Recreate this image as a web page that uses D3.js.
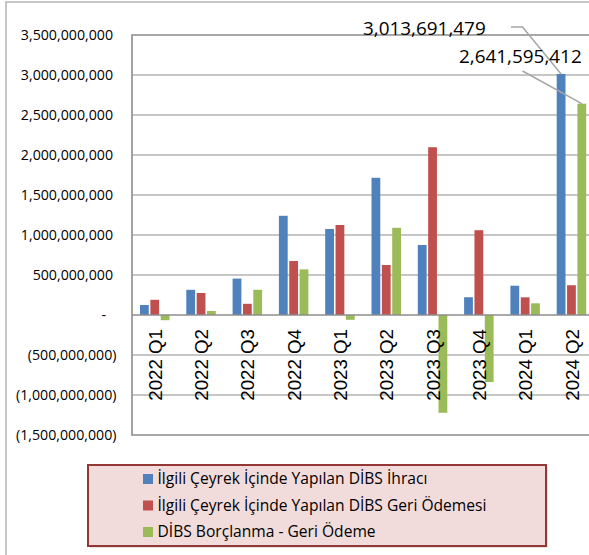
<!DOCTYPE html>
<html>
<head>
<meta charset="utf-8">
<script src="https://cdn.jsdelivr.net/npm/d3@7"></script>
<style>
  html, body { margin: 0; padding: 0; background: #fff; }
  svg { display: block; }
</style>
</head>
<body>
<svg id="chart" width="589" height="555"></svg>
<script>
// ---- data ----
const categories = ["2022 Q1","2022 Q2","2022 Q3","2022 Q4","2023 Q1","2023 Q2","2023 Q3","2023 Q4","2024 Q1","2024 Q2"];
const issuance   = [125e6, 315e6, 455e6, 1240e6, 1075e6, 1715e6, 875e6, 222e6, 366e6, 3013691479];
const repayment  = [190e6, 275e6, 140e6, 675e6, 1125e6, 625e6, 2097e6, 1060e6, 221e6, 372096067];
const net        = [-65e6, 50e6, 315e6, 570e6, -60e6, 1090e6, -1222e6, -838e6, 146e6, 2641595412];
const seriesNames = [
  "İlgili Çeyrek İçinde Yapılan DİBS İhracı",
  "İlgili Çeyrek İçinde Yapılan DİBS Geri Ödemesi",
  "DİBS Borçlanma - Geri Ödeme"
];
const seriesValues = [issuance, repayment, net];
const colors = ["#4F81BD", "#C0504D", "#9BBB59"];
const yTicks = [-1.5e9, -1e9, -5e8, 0, 5e8, 1e9, 1.5e9, 2e9, 2.5e9, 3e9, 3.5e9];

// ---- layout ----
const svg = d3.select("#chart");
const plot = { left: 132, right: 595, top: 35, bottom: 435 };
const fontUI = "'Open Sans', 'Noto Sans', sans-serif";

const y = d3.scaleLinear().domain([-1.5e9, 3.5e9]).range([plot.bottom, plot.top]);
const x0 = d3.scaleBand().domain(categories).range([plot.left, plot.right]).padding(0);
const x1 = d3.scaleBand().domain(d3.range(3)).range([8, 37.5]).paddingInner(0.15).paddingOuter(0);

// outer chart border
svg.append("path")
  .attr("d", "M6,555 L6,2 L589,2")
  .attr("fill", "none").attr("stroke", "#b4b4b4").attr("stroke-width", 1.5);

// gridlines
svg.append("g").selectAll("line")
  .data(yTicks.filter(t => t !== 0 && t !== 3.5e9 && t !== -1.5e9))
  .join("line")
  .attr("x1", plot.left).attr("x2", plot.right)
  .attr("y1", d => y(d)).attr("y2", d => y(d))
  .attr("stroke", "#b3b3b3").attr("stroke-width", 1.6);

// plot border (top, left, bottom)
svg.append("path")
  .attr("d", `M${plot.right},${y(3.5e9)} L${plot.left},${y(3.5e9)} L${plot.left},${y(-1.5e9)} L${plot.right},${y(-1.5e9)}`)
  .attr("fill", "none").attr("stroke", "#8c8c8c").attr("stroke-width", 1.6);

// bars
const barData = [];
categories.forEach((c, i) => {
  seriesValues.forEach((vals, s) => barData.push({ c, s, v: vals[i] }));
});
svg.append("g").selectAll("rect")
  .data(barData)
  .join("rect")
  .attr("x", d => x0(d.c) + x1(d.s))
  .attr("width", x1.bandwidth())
  .attr("y", d => y(Math.max(0, d.v)))
  .attr("height", d => Math.abs(y(d.v) - y(0)))
  .attr("fill", d => colors[d.s]);

// zero axis line
svg.append("line")
  .attr("x1", plot.left).attr("x2", plot.right)
  .attr("y1", y(0)).attr("y2", y(0))
  .attr("stroke", "#8c8c8c").attr("stroke-width", 1.6);

// y tick labels (accounting style)
const fmt = d3.format(",");
const yl = svg.append("g")
  .attr("font-family", fontUI).attr("font-size", 14.2).attr("fill", "#000");
yTicks.forEach(t => {
  const txt = t === 0 ? "-" : (t < 0 ? "(" + fmt(-t) + ")" : fmt(t));
  yl.append("text")
    .attr("x", t === 0 ? 106 : (t < 0 ? 116.5 : 113))
    .attr("y", y(t))
    .attr("dy", "0.35em")
    .attr("text-anchor", "end")
    .text(txt);
});

// category labels (rotated)
svg.append("g").selectAll("text")
  .data(categories)
  .join("text")
  .attr("transform", d => `translate(${x0(d) + x0.bandwidth() / 2},${y(0) + 14}) rotate(-90)`)
  .attr("dy", "0.36em")
  .attr("text-anchor", "end")
  .attr("font-family", "'Liberation Sans', Arial, sans-serif")
  .attr("font-size", 18.7)
  .attr("fill", "#000")
  .text(d => d);

// data labels with leader lines for last category
const last = categories.length - 1;
const blueCx = x0(categories[last]) + x1(0) + x1.bandwidth() / 2;
const greenCx = x0(categories[last]) + x1(2) + x1.bandwidth() / 2;
svg.append("path")
  .attr("d", `M511,27 L522.5,27 L${blueCx},${y(issuance[last])}`)
  .attr("fill", "none").attr("stroke", "#a6a6a6").attr("stroke-width", 1.5);
svg.append("path")
  .attr("d", `M522.5,71 L${greenCx},${y(net[last])}`)
  .attr("fill", "none").attr("stroke", "#a6a6a6").attr("stroke-width", 1.5);
svg.append("text")
  .attr("x", 363).attr("y", 28).attr("dy", "0.35em")
  .attr("font-family", fontUI).attr("font-size", 18.9).attr("fill", "#000")
  .text(fmt(issuance[last]));
svg.append("text")
  .attr("x", 459).attr("y", 56).attr("dy", "0.35em")
  .attr("font-family", fontUI).attr("font-size", 18.9).attr("fill", "#000")
  .text(fmt(net[last]));

// legend
const lg = svg.append("g");
lg.append("rect")
  .attr("x", 90).attr("y", 467).attr("width", 458).attr("height", 81)
  .attr("fill", "#d0d0d0").attr("opacity", 0.6);
lg.append("rect")
  .attr("x", 88).attr("y", 465).attr("width", 458).attr("height", 81)
  .attr("fill", "#F2DCDB").attr("stroke", "#953735").attr("stroke-width", 2);
const rows = [479, 505.5, 532];
seriesNames.forEach((n, i) => {
  lg.append("rect")
    .attr("x", 143).attr("y", rows[i] - 5).attr("width", 10).attr("height", 10)
    .attr("fill", colors[i]);
  lg.append("text")
    .attr("x", 157.5).attr("y", rows[i]).attr("dy", "0.35em")
    .attr("font-family", fontUI).attr("font-size", 15.6).attr("fill", "#000")
    .text(n);
});
</script>
</body>
</html>
